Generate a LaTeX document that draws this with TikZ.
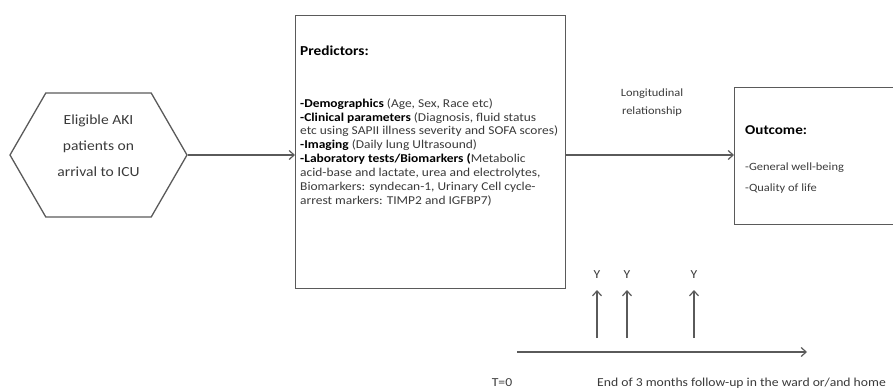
\documentclass[tikz,border=0pt]{standalone}
\usepackage{fontspec}
\setmainfont[FakeStretch=1.12]{Carlito}
\usetikzlibrary{arrows.meta,shapes.symbols}
\definecolor{linegray}{HTML}{5A5A5A}
\definecolor{txtgray}{HTML}{3A3A3A}
\newcommand\mytightls{\lineskiplimit=-20pt\relax}
\begin{document}
\begin{tikzpicture}[x=1pt,y=-1pt,
  conn/.style={draw=linegray,line width=1.2pt,-{Straight Barb[length=5pt,width=9pt]}},
  boxshape/.style={draw=linegray,line width=1.3pt,rectangle,inner sep=0pt},
  hexshape/.style={draw=linegray,line width=1.3pt,signal,signal to=west and east,
    signal pointer angle=120,minimum width=177pt,minimum height=124pt,inner sep=0pt},
  bodytext/.style={inner sep=0pt,align=left,text=txtgray},
  smalltext/.style={inner sep=0pt,text=txtgray,font=\fontsize{12.2}{14}\selectfont}
]
\useasboundingbox (0,0) rectangle (893,389);
\clip (0,0) rectangle (893,389);

% hexagon
\node[hexshape] (hex) at (98.5,155) {};
\node[inner sep=0pt,align=center,text=txtgray,font=\fontsize{13.9}{26}\selectfont\mytightls] (hextxt) at (98.5,146)
{Eligible AKI\\patients on\\arrival to ICU};

% predictors box
\node[boxshape,minimum width=270pt,minimum height=273pt,anchor=north west] (pred) at (295,15) {};
\node[bodytext,anchor=north west,font=\fontsize{12}{13.85}\selectfont\mytightls] (predtxt) at (300,46)
{{\fontsize{13.7}{16}\selectfont\bfseries\color{black}Predictors:}\\[37.5pt]
{\bfseries\color{black}-Demographics} (Age, Sex, Race etc)\\
{\bfseries\color{black}-Clinical parameters} (Diagnosis, fluid status\\
etc using SAPII illness severity and SOFA scores)\\
{\bfseries\color{black}-Imaging} (Daily lung Ultrasound)\\
{\bfseries\color{black}-Laboratory tests/Biomarkers (}Metabolic\\
acid-base and lactate, urea and electrolytes,\\
Biomarkers: syndecan-1, Urinary Cell cycle-\\
arrest markers: TIMP2 and IGFBP7)};

% outcome box
\node[boxshape,minimum width=200pt,minimum height=137pt,anchor=north west] (out) at (734,87) {};
\node[bodytext,anchor=north west,font=\fontsize{11.1}{21}\selectfont\mytightls] (outtxt) at (745,125)
{{\fontsize{13.5}{16}\selectfont\bfseries\color{black}Outcome:}\\[15pt]
-General well-being\\
-Quality of life};

% longitudinal label
\node[inner sep=0pt,align=center,text=txtgray,font=\fontsize{11.1}{18}\selectfont] (lng) at (652,103)
{Longitudinal\\relationship};

% main connectors
\draw[conn] (hex.east) -- (pred.west |- hex.east);
\draw[conn] (pred.east |- hex.east) -- (out.west |- hex.east);

% timeline
\coordinate (t0) at (517,352);
\coordinate (tend) at (807,352);
\draw[conn] (t0) -- (tend);
\foreach \i/\x in {1/597,2/627,3/694}{
  \coordinate (vb\i) at (\x,338);
  \coordinate (vt\i) at (\x,290);
  \node[smalltext] (y\i) at (\x,275) {Y};
  \draw[conn] (vb\i) -- (vt\i);
}
\node[smalltext] (tzero) at (502,383) {T=0};
\node[smalltext,anchor=west] (tendtxt) at (597,383) {End of 3 months follow-up in the ward or/and home};
\end{tikzpicture}
\end{document}
